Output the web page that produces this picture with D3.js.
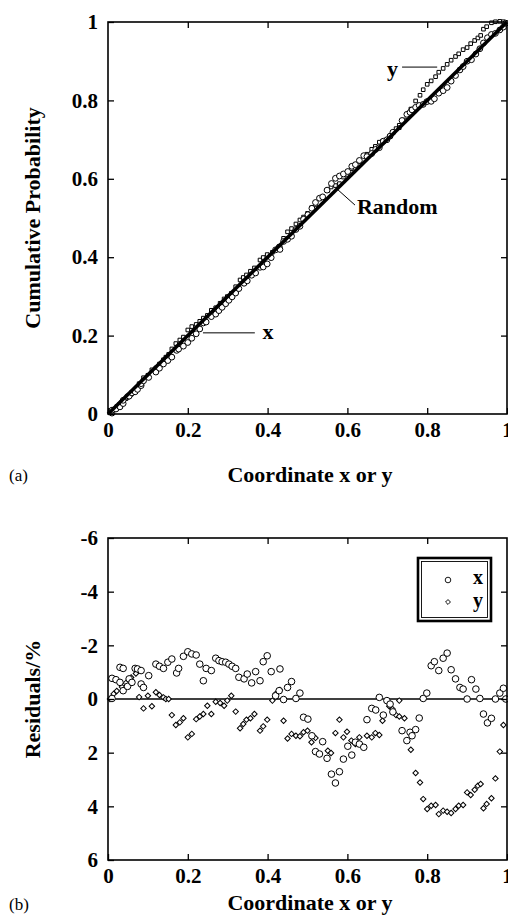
<!DOCTYPE html>
<html><head><meta charset="utf-8">
<script src="https://cdn.jsdelivr.net/npm/d3@7"></script>
<style>
body{margin:0;background:#fff}
text{font-family:"Liberation Serif","Times New Roman",serif;fill:#000}
</style>
</head><body>
<svg id="c" width="508" height="916"></svg>
<script>
// ---------- data ----------
const coordTicks = [0, 0.2, 0.4, 0.6, 0.8, 1];
const probTicks = [0, 0.2, 0.4, 0.6, 0.8, 1];
const residTicks = [-6, -4, -2, 0, 2, 4, 6];
const randomLine = [[0, 0], [1, 1]];
// [coordinate, residual %] for the x series (circles)
const xPoints = [
[0.010,-0.77],[0.010,-0.02],[0.020,-0.72],[0.030,-0.62],[0.030,-1.18],[0.038,-1.14],[0.038,-0.31],
[0.049,-0.47],[0.053,-0.75],[0.060,-0.62],[0.068,-1.14],[0.074,-1.12],[0.083,-1.06],[0.083,-0.56],
[0.089,-0.43],[0.102,-0.87],[0.120,-1.30],[0.129,-1.22],[0.139,-1.14],[0.150,-1.37],[0.160,-1.49],
[0.172,-0.97],[0.177,-1.14],[0.189,-1.59],[0.200,-1.76],[0.210,-1.68],[0.221,-1.64],[0.230,-1.30],
[0.239,-0.68],[0.246,-1.14],[0.259,-1.06],[0.270,-1.52],[0.278,-1.43],[0.286,-1.39],[0.295,-1.37],
[0.303,-1.30],[0.311,-1.22],[0.320,-1.14],[0.328,-0.81],[0.341,-0.75],[0.349,-0.93],[0.360,-0.60],
[0.370,-1.02],[0.381,-0.68],[0.389,-1.39],[0.399,-1.61],[0.409,-1.02],[0.420,-0.12],[0.429,-0.31],
[0.431,-1.12],[0.440,0.02],[0.450,-0.43],[0.460,-0.65],[0.471,-0.02],[0.481,-0.22],[0.490,0.68],
[0.501,0.75],[0.511,1.37],[0.520,1.96],[0.530,2.05],[0.538,1.59],[0.549,2.21],[0.560,2.80],
[0.570,3.13],[0.580,2.71],[0.590,2.24],[0.601,1.76],[0.611,2.09],[0.620,1.61],[0.630,1.68],
[0.641,1.80],[0.649,0.77],[0.661,0.35],[0.671,0.41],[0.680,-0.06],[0.690,0.60],[0.699,0.06],
[0.707,0.19],[0.714,0.48],[0.737,1.18],[0.749,1.55],[0.757,1.24],[0.762,1.37],[0.771,1.14],
[0.780,0.71],[0.790,-0.02],[0.799,-0.22],[0.810,-1.24],[0.818,-1.39],[0.829,-1.06],[0.840,-1.52],
[0.850,-1.71],[0.860,-1.09],[0.871,-0.75],[0.882,-0.43],[0.890,-0.37],[0.900,0.00],[0.911,-0.72],
[0.922,-0.37],[0.932,-0.02],[0.941,0.56],[0.951,0.89],[0.961,0.72],[0.971,0.00],[0.982,-0.22],
[0.991,-0.40],[0.997,0.00]
];
// [coordinate, residual %] for the y series (diamonds / squares)
const yPoints = [
[0.005,0.00],[0.014,-0.19],[0.022,-0.30],[0.035,-0.45],[0.045,-0.60],[0.058,-0.80],[0.070,-0.95],
[0.078,-0.07],[0.089,0.35],[0.100,-0.12],[0.110,0.27],[0.120,-0.25],[0.129,-0.15],[0.139,-0.06],
[0.145,0.00],[0.152,0.00],[0.160,0.60],[0.170,0.97],[0.180,0.87],[0.189,0.72],[0.200,1.43],
[0.210,1.30],[0.221,0.75],[0.230,0.65],[0.239,0.56],[0.249,0.25],[0.259,0.56],[0.270,0.10],
[0.281,0.15],[0.291,0.25],[0.299,0.06],[0.309,-0.12],[0.320,0.47],[0.331,1.09],[0.339,0.93],
[0.347,0.77],[0.357,0.72],[0.367,0.56],[0.381,1.18],[0.389,1.02],[0.399,0.77],[0.412,0.06],
[0.420,-0.19],[0.431,-0.34],[0.440,0.81],[0.450,1.47],[0.460,1.30],[0.471,1.37],[0.481,1.39],
[0.490,1.24],[0.500,1.18],[0.510,1.61],[0.520,1.45],[0.551,1.93],[0.559,2.01],[0.570,1.27],
[0.580,0.77],[0.590,1.43],[0.599,1.22],[0.610,1.55],[0.620,1.68],[0.630,1.43],[0.649,1.37],
[0.661,1.43],[0.670,1.27],[0.680,1.34],[0.688,0.81],[0.705,0.27],[0.713,0.37],[0.722,0.60],
[0.730,0.65],[0.730,0.06],[0.743,0.72],[0.759,1.89],[0.771,2.76],[0.782,3.11],[0.790,3.73],
[0.800,4.10],[0.810,3.98],[0.821,3.95],[0.829,4.29],[0.840,4.16],[0.850,4.20],[0.860,4.25],
[0.871,4.10],[0.879,3.98],[0.890,3.95],[0.900,3.48],[0.909,3.58],[0.919,3.38],[0.927,3.23],
[0.934,3.17],[0.941,4.07],[0.949,3.91],[0.961,3.70],[0.971,2.96],[0.982,1.96],[0.991,0.97],
[0.998,0.00]
];
// cumulative probability of the sample = uniform value + residual
const cumOf = p => [p[0], p[0] + p[1] / 100];

// ---------- drawing ----------
const svg = d3.select('#c');
svg.append('rect').attr('width', 508).attr('height', 916).attr('fill', '#fff');

const xTop = d3.scaleLinear().domain([0, 1]).range([108, 507]);
const yTop = d3.scaleLinear().domain([0, 1]).range([414, 22]);
const xBot = d3.scaleLinear().domain([0, 1]).range([108, 507]);
const yBot = d3.scaleLinear().domain([-6, 6]).range([538, 860]);

function styleAxis(sel, labels) {
  sel.select('.domain').remove();
  sel.selectAll('.tick line').attr('stroke', '#000').attr('stroke-width', 1.3);
  sel.selectAll('.tick text').attr('font-size', 21).attr('font-weight', 'bold')
     .attr('fill', '#000').style('font-family', '"Liberation Serif",serif');
  if (!labels) sel.selectAll('.tick text').remove();
}

function drawFrame(x, y, xTicks, yTicks) {
  const [x0, x1] = x.range();
  const yb = Math.max(...y.range()), yt = Math.min(...y.range());
  const inner = xTicks.filter(t => t > x.domain()[0] && t < x.domain()[1]);
  const innerY = yTicks.filter(t => t > d3.min(y.domain()) && t < d3.max(y.domain()));
  svg.append('g').attr('transform', `translate(0,${yb})`)
    .call(d3.axisBottom(x).tickValues(xTicks).tickSize(-6).tickPadding(8).tickFormat(d => String(d)))
    .call(s => styleAxis(s, true));
  svg.append('g').attr('transform', `translate(0,${yt})`)
    .call(d3.axisTop(x).tickValues(inner).tickSize(-6))
    .call(s => styleAxis(s, false));
  svg.append('g').attr('transform', `translate(${x0},0)`)
    .call(d3.axisLeft(y).tickValues(yTicks).tickSize(-6).tickPadding(10).tickFormat(d => String(d)))
    .call(s => styleAxis(s, true));
  svg.append('g').attr('transform', `translate(${x1},0)`)
    .call(d3.axisRight(y).tickValues(innerY).tickSize(-6))
    .call(s => styleAxis(s, false));
  svg.append('rect').attr('x', x0).attr('y', yt).attr('width', x1 - x0).attr('height', yb - yt)
    .attr('fill', 'none').attr('stroke', '#000').attr('stroke-width', 1.6);
}

// ---- panel (a) ----
const gA = svg.append('g');
gA.selectAll('path.ys').data(yPoints.map(cumOf)).join('path')
  .attr('d', d3.symbol(d3.symbolSquare, 13))
  .attr('transform', d => `translate(${xTop(d[0])},${yTop(d[1])})`)
  .attr('fill', '#fff').attr('stroke', '#000').attr('stroke-width', 1);
gA.selectAll('circle.xs').data(xPoints.map(cumOf)).join('circle')
  .attr('cx', d => xTop(d[0])).attr('cy', d => yTop(d[1])).attr('r', 2.9)
  .attr('fill', '#fff').attr('stroke', '#000').attr('stroke-width', 1);
gA.append('path').datum(randomLine)
  .attr('d', d3.line().x(d => xTop(d[0])).y(d => yTop(d[1])))
  .attr('stroke', '#000').attr('stroke-width', 3.6).attr('fill', 'none');

drawFrame(xTop, yTop, coordTicks, probTicks);

// annotations (a)
const bold = (sel, size) => sel.attr('font-weight', 'bold').attr('font-size', size);
gA.append('line').attr('x1', xTop(0.737)).attr('x2', xTop(0.825))
  .attr('y1', yTop(0.885)).attr('y2', yTop(0.885)).attr('stroke', '#000').attr('stroke-width', 1);
bold(gA.append('text').attr('x', xTop(0.699)).attr('y', yTop(0.862)).text('y'), 22);
gA.append('line').attr('x1', xTop(0.574)).attr('y1', yTop(0.574))
  .attr('x2', xTop(0.619)).attr('y2', yTop(0.533)).attr('stroke', '#000').attr('stroke-width', 1);
bold(gA.append('text').attr('x', xTop(0.624)).attr('y', yTop(0.510)).text('Random'), 22);
gA.append('line').attr('x1', xTop(0.238)).attr('x2', xTop(0.368))
  .attr('y1', yTop(0.207)).attr('y2', yTop(0.207)).attr('stroke', '#000').attr('stroke-width', 1);
bold(gA.append('text').attr('x', xTop(0.387)).attr('y', yTop(0.192)).text('x'), 22);

bold(svg.append('text').attr('x', 310).attr('y', 482).attr('text-anchor', 'middle')
  .text('Coordinate x or y'), 22);
bold(svg.append('text').attr('transform', 'translate(40,218) rotate(-90)')
  .attr('text-anchor', 'middle').text('Cumulative Probability'), 22);
svg.append('text').attr('x', 9).attr('y', 481).attr('font-size', 17).text('(a)');

// ---- panel (b) ----
const gB = svg.append('g');
gB.append('line').attr('x1', xBot(0)).attr('x2', xBot(1)).attr('y1', yBot(0)).attr('y2', yBot(0))
  .attr('stroke', '#000').attr('stroke-width', 1.5);
gB.selectAll('path.yd').data(yPoints).join('path')
  .attr('d', d3.symbol(d3.symbolSquare, 15))
  .attr('transform', d => `translate(${xBot(d[0])},${yBot(d[1])}) rotate(45)`)
  .attr('fill', '#fff').attr('stroke', '#000').attr('stroke-width', 1);
gB.selectAll('circle.xd').data(xPoints).join('circle')
  .attr('cx', d => xBot(d[0])).attr('cy', d => yBot(d[1])).attr('r', 3.3)
  .attr('fill', '#fff').attr('stroke', '#000').attr('stroke-width', 1);

drawFrame(xBot, yBot, coordTicks, residTicks);

// legend
const lg = svg.append('g');
lg.append('rect').attr('x', 418).attr('y', 558).attr('width', 73).attr('height', 63)
  .attr('fill', '#fff').attr('stroke', '#000').attr('stroke-width', 2.6);
lg.append('rect').attr('x', 421.5).attr('y', 561.5).attr('width', 66).attr('height', 56)
  .attr('fill', 'none').attr('stroke', '#000').attr('stroke-width', 0.9);
lg.append('circle').attr('cx', 448).attr('cy', 580).attr('r', 2.8)
  .attr('fill', '#fff').attr('stroke', '#000').attr('stroke-width', 0.9);
lg.append('path').attr('d', d3.symbol(d3.symbolSquare, 12)())
  .attr('transform', 'translate(448,602) rotate(45)')
  .attr('fill', '#fff').attr('stroke', '#000').attr('stroke-width', 0.9);
bold(lg.append('text').attr('x', 473).attr('y', 584).text('x'), 20);
bold(lg.append('text').attr('x', 473).attr('y', 607).text('y'), 20);

bold(svg.append('text').attr('x', 310).attr('y', 910).attr('text-anchor', 'middle')
  .text('Coordinate x or y'), 22);
bold(svg.append('text').attr('transform', 'translate(40,699) rotate(-90)')
  .attr('text-anchor', 'middle').text('Residuals/%'), 22);
svg.append('text').attr('x', 9).attr('y', 910).attr('font-size', 17).text('(b)');
</script>
</body></html>
